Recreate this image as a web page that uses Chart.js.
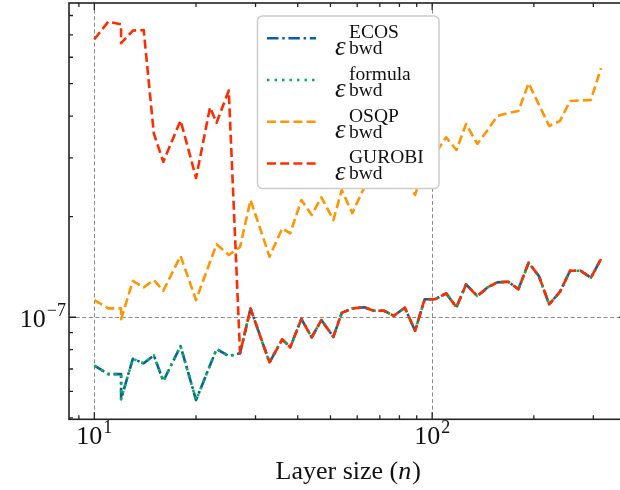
<!DOCTYPE html>
<html>
<head>
<meta charset="utf-8">
<script src="https://cdn.jsdelivr.net/npm/chart.js@4.4.1/dist/chart.umd.min.js"></script>
<style>
  html, body { margin: 0; padding: 0; background: #fff; overflow: hidden; }
  #wrap { width: 630px; height: 490px; }
</style>
</head>
<body>
<div id="wrap"><canvas id="bwdChart" width="630" height="490"></canvas></div>
<script>
// Layer sizes n (rounded log-spaced sizes from 10 to 316)
const layerSizes = [10, 11, 12, 12, 13, 14, 15, 16, 18, 19, 20, 22, 23, 25, 27, 29, 31, 33, 36, 38,
  41, 44, 47, 51, 54, 58, 63, 67, 72, 77, 83, 89, 95, 102, 110, 118, 126, 136, 146, 156,
  168, 180, 193, 207, 222, 239, 256, 275, 295, 316];

// Backward errors, in units of 1e-7
const ecosBwd = [0.716, 0.676, 0.676, 0.569, 0.751, 0.728, 0.769, 0.644, 0.820, 0.678,
  0.565, 0.718, 0.803, 0.765, 0.780, 1.062, 0.876, 0.733, 0.859, 0.813,
  0.988, 0.871, 0.981, 0.874, 1.031, 1.063, 1.071, 1.046, 1.046, 1.010,
  1.068, 0.911, 1.132, 1.132, 1.179, 1.071, 1.254, 1.157, 1.229, 1.272,
  1.277, 1.214, 1.456, 1.329, 1.093, 1.192, 1.378, 1.378, 1.313, 1.494];
const formulaBwd = [0.716, 0.676, 0.676, 0.569, 0.751, 0.728, 0.769, 0.644, 0.820, 0.678,
  0.565, 0.718, 0.803, 0.765, 0.780, 1.062, 0.876, 0.733, 0.859, 0.813,
  0.988, 0.871, 0.981, 0.874, 1.031, 1.063, 1.071, 1.046, 1.046, 1.010,
  1.068, 0.911, 1.132, 1.132, 1.179, 1.071, 1.254, 1.157, 1.229, 1.272,
  1.277, 1.214, 1.456, 1.329, 1.093, 1.192, 1.378, 1.378, 1.313, 1.494];
const osqpBwd = [1.126, 1.063, 1.063, 0.986, 1.284, 1.229, 1.292, 1.200, 1.525, 1.306,
  1.126, 1.463, 1.653, 1.536, 1.623, 2.243, 1.837, 1.518, 1.846, 1.783,
  2.243, 2.023, 2.286, 1.954, 2.403, 2.050, 2.450, 2.600, 2.500, 2.750,
  2.650, 2.322, 2.856, 3.080, 3.457, 3.167, 3.788, 3.301, 3.635, 4.004,
  4.088, 4.145, 5.016, 4.330, 3.737, 3.868, 4.440, 4.455, 4.470, 5.563];
const gurobiBwd = [6.79, 7.67, 7.53, 6.61, 7.21, 7.24, 3.55, 2.92, 3.88, 3.17,
  2.61, 4.25, 3.82, 4.77, 0.780, 1.062, 0.876, 0.733, 0.859, 0.813,
  0.988, 0.871, 0.981, 0.874, 1.031, 1.063, 1.071, 1.046, 1.046, 1.010,
  1.068, 0.911, 1.132, 1.132, 1.179, 1.071, 1.254, 1.157, 1.229, 1.272,
  1.277, 1.214, 1.456, 1.329, 1.093, 1.192, 1.378, 1.378, 1.313, 1.494];

const seriesNames = ["ECOS", "formula", "OSQP", "GUROBI"];
const UNIT = 1e-7;

const SERIF = '"Liberation Serif", "DejaVu Serif", serif';

const styles = [
  { color: "#0C5DA5", dash: [11.5, 3.7, 2.5, 3.7] },
  { color: "#00B945", dash: [2.5, 5] },
  { color: "#FF9500", dash: [9, 4.2] },
  { color: "#FF2C00", dash: [9, 4.2] },
];

function toPoints(values) {
  return values.map((v, i) => ({ x: layerSizes[i], y: v * UNIT }));
}

// draws "base^exp" with a raised, smaller exponent
function drawPow(ctx, base, exp, x, y, align) {
  ctx.font = `26px ${SERIF}`;
  const wb = ctx.measureText(base).width;
  ctx.font = `18px ${SERIF}`;
  const we = ctx.measureText(exp).width;
  const total = wb + 1 + we;
  const left = align === "center" ? x - total / 2 : align === "right" ? x - total : x;
  ctx.textAlign = "left";
  ctx.textBaseline = "alphabetic";
  ctx.font = `26px ${SERIF}`;
  ctx.fillText(base, left, y);
  ctx.font = `18px ${SERIF}`;
  ctx.fillText(exp, left + wb + 1, y - 11);
}

const axesPlugin = {
  id: "sciAxes",
  beforeDatasetsDraw(chart) {
    const { ctx, chartArea: a, scales } = chart;
    ctx.save();
    ctx.strokeStyle = "#8a8a8a";
    ctx.lineWidth = 1;
    ctx.setLineDash([4, 2.6]);
    [10, 100].forEach((v) => {
      const px = Math.round(scales.x.getPixelForValue(v)) + 0.5;
      ctx.beginPath();
      ctx.moveTo(px, a.top);
      ctx.lineTo(px, a.bottom);
      ctx.stroke();
    });
    const py = Math.round(scales.y.getPixelForValue(1e-7)) + 0.5;
    ctx.beginPath();
    ctx.moveTo(a.left, py);
    ctx.lineTo(a.right, py);
    ctx.stroke();
    ctx.restore();
  },
  afterDatasetsDraw(chart) {
    const { ctx, chartArea: a, scales } = chart;
    ctx.save();
    ctx.strokeStyle = "#222";
    ctx.lineWidth = 1.3;
    ctx.setLineDash([]);

    // inward ticks on all four sides
    const xMajor = [10, 100];
    const xMinor = [9, 20, 30, 40, 50, 60, 70, 80, 90, 200, 300];
    const yMajor = [1e-7];
    const yMinor = [5e-8, 6e-8, 7e-8, 8e-8, 9e-8, 2e-7, 3e-7, 4e-7, 5e-7, 6e-7, 7e-7, 8e-7];
    const tickX = (v, len) => {
      const px = scales.x.getPixelForValue(v);
      ctx.beginPath();
      ctx.moveTo(px, a.bottom); ctx.lineTo(px, a.bottom - len);
      ctx.moveTo(px, a.top); ctx.lineTo(px, a.top + len);
      ctx.stroke();
    };
    const tickY = (v, len) => {
      const py = scales.y.getPixelForValue(v);
      ctx.beginPath();
      ctx.moveTo(a.left, py); ctx.lineTo(a.left + len, py);
      ctx.moveTo(a.right, py); ctx.lineTo(a.right - len, py);
      ctx.stroke();
    };
    xMajor.forEach((v) => tickX(v, 7));
    xMinor.forEach((v) => tickX(v, 4));
    yMajor.forEach((v) => tickY(v, 7));
    yMinor.forEach((v) => tickY(v, 4));

    ctx.lineWidth = 1.6;
    ctx.strokeRect(a.left, a.top, a.right - a.left, a.bottom - a.top);

    // tick labels
    ctx.fillStyle = "#111";
    drawPow(ctx, "10", "1", scales.x.getPixelForValue(10), 444, "center");
    drawPow(ctx, "10", "2", scales.x.getPixelForValue(100), 444, "center");
    drawPow(ctx, "10", "\u22127", 66, scales.y.getPixelForValue(1e-7) + 10, "right");

    // x axis title with italic n
    const cx = (a.left + a.right) / 2;
    const parts = [
      { t: "Layer size (", f: `26px ${SERIF}` },
      { t: "n", f: `italic 26px ${SERIF}` },
      { t: ")", f: `26px ${SERIF}` },
    ];
    let w = 0;
    parts.forEach((p) => { ctx.font = p.f; p.w = ctx.measureText(p.t).width; w += p.w; });
    let x0 = cx - w / 2;
    ctx.textAlign = "left";
    ctx.textBaseline = "alphabetic";
    parts.forEach((p) => { ctx.font = p.f; ctx.fillText(p.t, x0, 479); x0 += p.w + (p.t === "n" ? 1 : 0); });

    // legend box
    const box = { l: 257.5, t: 16, r: 439, b: 188.5 };
    ctx.beginPath();
    ctx.roundRect(box.l, box.t, box.r - box.l, box.b - box.t, 5);
    ctx.fillStyle = "#fff";
    ctx.fill();
    ctx.strokeStyle = "#cccccc";
    ctx.lineWidth = 1.5;
    ctx.stroke();

    seriesNames.forEach((name, i) => {
      const y = box.t + 22.3 + i * 41.7;
      ctx.strokeStyle = styles[i].color;
      ctx.lineWidth = 2.5;
      ctx.setLineDash(styles[i].dash);
      ctx.beginPath();
      ctx.moveTo(267, y);
      ctx.lineTo(316, y);
      ctx.stroke();
      ctx.setLineDash([]);

      ctx.fillStyle = "#111";
      ctx.textAlign = "left";
      ctx.font = `italic 27px ${SERIF}`;
      ctx.fillText("\u03b5", 335, y + 16.5);
      ctx.font = `19.5px ${SERIF}`;
      ctx.fillText(name, 349, y);
      ctx.fillText("bwd", 349, y + 16);
    });
    ctx.restore();
  },
};

const seriesValues = [ecosBwd, formulaBwd, osqpBwd, gurobiBwd];

new Chart(document.getElementById("bwdChart").getContext("2d"), {
  type: "line",
  data: {
    datasets: seriesNames.map((name, i) => ({
      label: name,
      data: toPoints(seriesValues[i]),
      borderColor: styles[i].color,
      borderDash: styles[i].dash,
      borderWidth: 2.6,
      borderCapStyle: "butt",
      borderJoinStyle: "round",
      pointRadius: 0,
      tension: 0,
      fill: false,
      order: 4 - i, // GUROBI ends up on top
    })),
  },
  options: {
    responsive: false,
    devicePixelRatio: 1,
    animation: false,
    layout: { padding: { top: 3, right: 3.6, left: 0, bottom: 0 } },
    plugins: { legend: { display: false }, tooltip: { enabled: false } },
    scales: {
      x: {
        type: "logarithmic",
        min: 8.414,
        max: 375.8,
        ticks: { display: false },
        grid: { display: false },
        border: { display: false },
        afterFit: (scale) => { scale.height = 70.7; },
      },
      y: {
        type: "logarithmic",
        min: 4.95e-8,
        max: 8.72e-7,
        ticks: { display: false },
        grid: { display: false },
        border: { display: false },
        afterFit: (scale) => { scale.width = 69; },
      },
    },
  },
  plugins: [axesPlugin],
});
</script>
</body>
</html>
